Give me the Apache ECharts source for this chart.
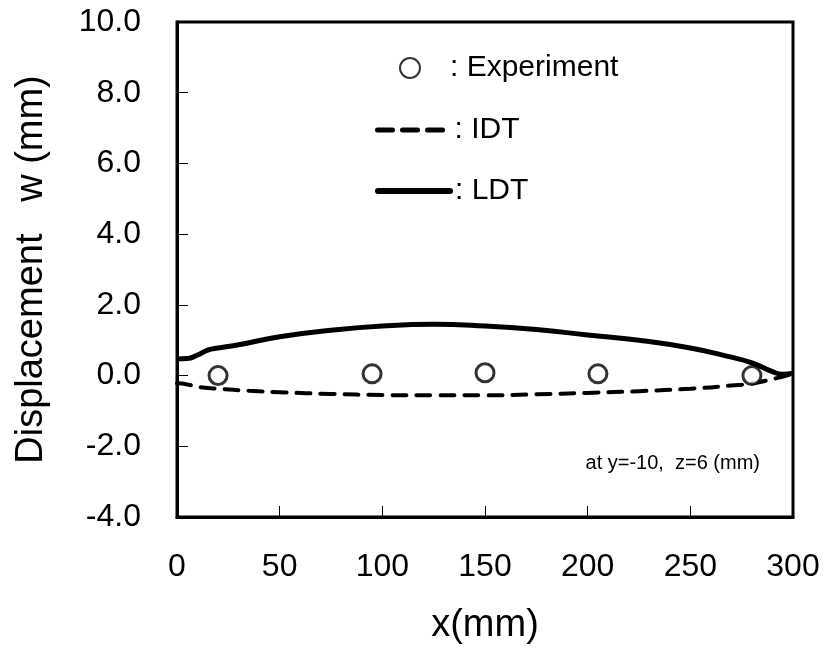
<!DOCTYPE html>
<html>
<head>
<meta charset="utf-8">
<script src="https://cdn.jsdelivr.net/npm/echarts@6/dist/echarts.min.js"></script>
<style>
  html, body { margin: 0; padding: 0; background: #fff; }
  #chart { width: 825px; height: 650px; }
</style>
</head>
<body>
<div id="chart"></div>
<script>
// measured points (x in mm, w in mm)
const expX = [20, 95, 150, 205, 280];
const expW = [0.0, 0.05, 0.08, 0.05, 0.0];

const idtX = [0, 5, 10, 20, 35, 50, 75, 100, 125, 150, 175, 200, 225, 250, 270, 280, 290, 300];
const idtW = [-0.22, -0.25, -0.32, -0.37, -0.43, -0.47, -0.52, -0.55, -0.56, -0.56, -0.53, -0.49, -0.44, -0.37, -0.28, -0.22, -0.1, 0.05];

const ldtX = [0, 5, 10, 15, 20, 30, 50, 75, 100, 125, 150, 175, 200, 225, 250, 270, 280, 290, 295, 300];
const ldtW = [0.47, 0.48, 0.58, 0.72, 0.78, 0.87, 1.1, 1.28, 1.4, 1.45, 1.4, 1.3, 1.15, 1.0, 0.78, 0.52, 0.36, 0.11, 0.04, 0.07];

const zip = (xs, ys) => xs.map((x, i) => [x, ys[i]]);
const font = 'Liberation Sans, Arial, sans-serif';
const legendText = { fontSize: 30, color: '#000', fontFamily: font };

const chart = echarts.init(document.getElementById('chart'));
chart.setOption({
  backgroundColor: '#fff',
  animation: false,
  textStyle: { fontFamily: font, color: '#000' },
  grid: {
    left: 177, right: 32, top: 22, bottom: 132,
    show: true, borderColor: '#000', borderWidth: 3
  },
  legend: [
    {
      data: ['Experiment'], left: 394, top: 48, orient: 'vertical',
      itemWidth: 20, itemHeight: 20,
      formatter: '   : {name}',
      textStyle: legendText
    },
    {
      data: ['IDT'], left: 370, top: 110, orient: 'vertical',
      itemWidth: 72, itemHeight: 14,
      formatter: ': {name}',
      itemStyle: { opacity: 0 },
      lineStyle: { width: 5, type: [15, 10], cap: 'round' },
      textStyle: legendText
    },
    {
      data: ['LDT'], left: 370, top: 171, orient: 'vertical',
      itemWidth: 72, itemHeight: 14,
      formatter: ': {name}',
      itemStyle: { opacity: 0 },
      lineStyle: { width: 6, cap: 'round' },
      textStyle: legendText
    }
  ],
  xAxis: {
    type: 'value', min: 0, max: 300, interval: 50,
    name: 'x(mm)', nameLocation: 'middle', nameGap: 90,
    nameTextStyle: { fontSize: 38, color: '#000', fontFamily: font },
    axisLine: { onZero: false, lineStyle: { color: '#000', width: 3 } },
    axisTick: { inside: true, length: 11, lineStyle: { color: '#000', width: 1 } },
    axisLabel: { fontSize: 32, color: '#000', margin: 34, fontFamily: font },
    splitLine: { show: false }
  },
  yAxis: {
    type: 'value', min: -4, max: 10, interval: 2,
    name: 'Displacement   w (mm)', nameLocation: 'middle', nameGap: 126,
    nameTextStyle: { fontSize: 38, color: '#000', fontFamily: font },
    axisLine: { onZero: false, lineStyle: { color: '#000', width: 3 } },
    axisTick: { inside: true, length: 11, lineStyle: { color: '#000', width: 1 } },
    axisLabel: { fontSize: 32, color: '#000', margin: 36, fontFamily: font,
      formatter: v => v.toFixed(1) },
    splitLine: { show: false }
  },
  graphic: [{
    type: 'text', right: 65, top: 453,
    style: { text: 'at y=-10,  z=6 (mm)', fontSize: 20, fill: '#000', fontFamily: font }
  }],
  series: [
    {
      name: 'IDT', type: 'line', data: zip(idtX, idtW), smooth: true,
      symbol: 'none', color: '#000',
      lineStyle: { color: '#000', width: 4, type: [14, 10], cap: 'round' }
    },
    {
      name: 'LDT', type: 'line', data: zip(ldtX, ldtW), smooth: true,
      symbol: 'none', color: '#000',
      lineStyle: { color: '#000', width: 5 }
    },
    {
      name: 'Experiment', type: 'scatter', data: zip(expX, expW),
      symbol: 'circle', symbolSize: 18, z: 5,
      itemStyle: { color: '#fff', borderColor: '#000', borderWidth: 3 }
    }
  ]
});
</script>
</body>
</html>
